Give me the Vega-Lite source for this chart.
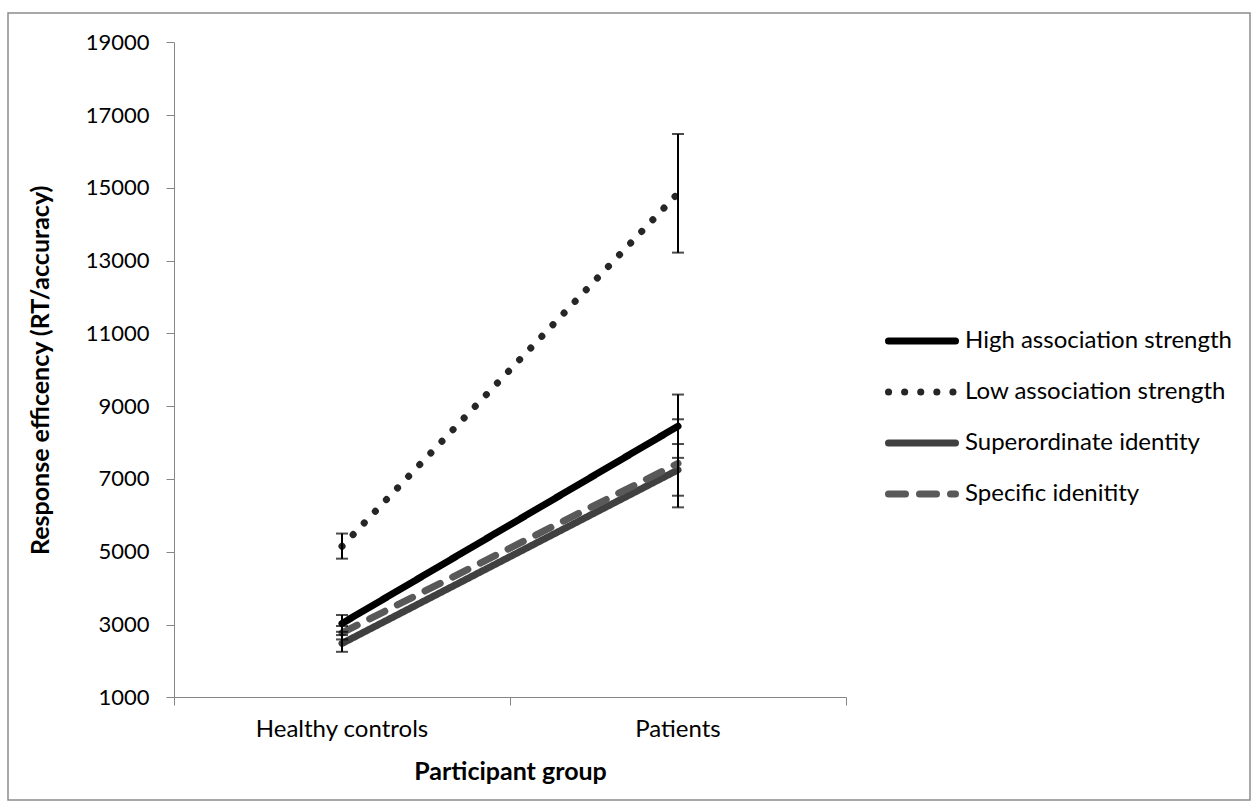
{
  "$schema": "https://vega.github.io/schema/vega-lite/v6.json",
  "width": 1242,
  "height": 787,
  "autosize": {"type": "none"},
  "padding": {"left": 8, "top": 13, "right": 8, "bottom": 12},
  "background": "white",
  "config": {
    "font": "Lato",
    "view": {"stroke": "#8c8c8c", "strokeWidth": 1.5},
    "axis": {
      "domainColor": "#868686",
      "tickColor": "#868686",
      "labelColor": "#000000",
      "titleColor": "#000000",
      "labelFontSize": 24,
      "titleFontSize": 25,
      "titleFontWeight": "bold",
      "grid": false,
      "labelFont": "Lato",
      "titleFont": "Lato"
    },
    "legend": {
      "orient": "none",
      "legendX": 877,
      "legendY": 291,
      "padding": 0,
      "symbolType": "stroke",
      "symbolSize": 4489,
      "symbolStrokeWidth": 7,
      "labelFontSize": 24,
      "labelFont": "Lato",
      "labelColor": "#000000",
      "labelOffset": 6,
      "rowPadding": 0,
      "labelLimit": 400
    }
  },
  "datasets": {
    "means": [
      {"group": "Healthy controls", "series": "High association strength", "value": 3030},
      {"group": "Patients", "series": "High association strength", "value": 8450},
      {"group": "Healthy controls", "series": "Low association strength", "value": 5150},
      {"group": "Patients", "series": "Low association strength", "value": 14850},
      {"group": "Healthy controls", "series": "Superordinate identity", "value": 2480},
      {"group": "Patients", "series": "Superordinate identity", "value": 7250},
      {"group": "Healthy controls", "series": "Specific idenitity", "value": 2770},
      {"group": "Patients", "series": "Specific idenitity", "value": 7430}
    ],
    "bars": [
      {"group": "Healthy controls", "series": "High association strength", "lo": 2800, "hi": 3262},
      {"group": "Patients", "series": "High association strength", "lo": 7580, "hi": 9320},
      {"group": "Healthy controls", "series": "Low association strength", "lo": 4810, "hi": 5500},
      {"group": "Patients", "series": "Low association strength", "lo": 13220, "hi": 16480},
      {"group": "Healthy controls", "series": "Superordinate identity", "lo": 2250, "hi": 2710},
      {"group": "Patients", "series": "Superordinate identity", "lo": 6540, "hi": 7960},
      {"group": "Healthy controls", "series": "Specific idenitity", "lo": 2590, "hi": 2960},
      {"group": "Patients", "series": "Specific idenitity", "lo": 6220, "hi": 8640}
    ]
  },
  "layer": [
    {
      "data": {"name": "means"},
      "mark": {"type": "line", "strokeWidth": 7, "strokeCap": "round"},
      "encoding": {
        "x": {
          "field": "group",
          "type": "nominal",
          "sort": ["Healthy controls", "Patients"],
          "scale": {"type": "band", "paddingInner": 0, "paddingOuter": 0, "range": [166, 838]},
          "axis": {
            "orient": "bottom",
            "offset": -103,
            "title": "Participant group",
            "ticks": false,
            "tickSize": 0,
            "labelAngle": 0,
            "labelPadding": 20,
            "titlePadding": 18
          }
        },
        "y": {
          "field": "value",
          "type": "quantitative",
          "scale": {"domain": [1000, 19000], "nice": false, "zero": false, "range": [684.3, 29.3]},
          "axis": {
            "offset": -166,
            "title": "Response efficency (RT/accuracy)",
            "values": [1000, 3000, 5000, 7000, 9000, 11000, 13000, 15000, 17000, 19000],
            "format": "d",
            "labelFontSize": 22,
            "tickSize": 8,
            "labelPadding": 17,
            "titlePadding": 32
          }
        },
        "color": {
          "field": "series",
          "type": "nominal",
          "scale": {
            "domain": ["High association strength", "Low association strength", "Superordinate identity", "Specific idenitity"],
            "range": ["#000000", "#262626", "#404040", "#595959"]
          },
          "legend": {
            "title": null,
            "encode": {"symbols": {"update": {"strokeCap": {"value": "round"}}}}
          }
        },
        "strokeDash": {
          "field": "series",
          "type": "nominal",
          "scale": {
            "domain": ["High association strength", "Low association strength", "Superordinate identity", "Specific idenitity"],
            "range": [[1, 0], [0.1, 16], [1, 0], [17, 14]]
          },
          "legend": {
            "title": null,
            "encode": {"symbols": {"update": {"strokeCap": {"value": "round"}}}}
          }
        }
      }
    },
    {
      "data": {"name": "bars"},
      "mark": {
        "type": "errorbar",
        "ticks": {"size": 12, "thickness": 2, "color": "#000000"},
        "rule": {"strokeWidth": 2, "color": "#000000"}
      },
      "encoding": {
        "x": {
          "field": "group",
          "type": "nominal",
          "sort": ["Healthy controls", "Patients"],
          "axis": {
            "orient": "bottom",
            "offset": -103,
            "title": null,
            "labels": false,
            "domain": false,
            "ticks": true,
            "tickSize": 8,
            "bandPosition": 1,
            "tickExtra": true
          }
        },
        "y": {
          "field": "lo",
          "type": "quantitative",
          "axis": {
            "offset": -166,
            "title": "Response efficency (RT/accuracy)",
            "values": [1000, 3000, 5000, 7000, 9000, 11000, 13000, 15000, 17000, 19000],
            "format": "d",
            "labelFontSize": 22,
            "tickSize": 8,
            "labelPadding": 17,
            "titlePadding": 32
          }
        },
        "y2": {"field": "hi"}
      }
    }
  ],
  "resolve": {"axis": {"x": "independent"}}
}
